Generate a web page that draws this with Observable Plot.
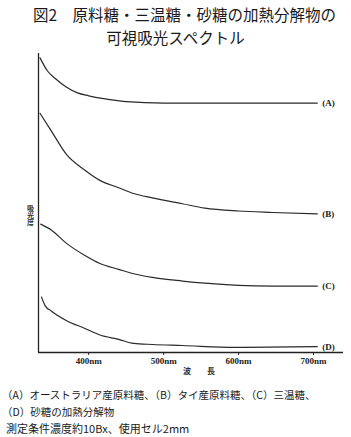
<!DOCTYPE html>
<html><head><meta charset="utf-8">
<script src="https://cdn.jsdelivr.net/npm/d3@7"></script>
<script src="https://cdn.jsdelivr.net/npm/@observablehq/plot@0.6"></script>
<style>
html,body{margin:0;padding:0;background:#fff;width:351px;height:437px;overflow:hidden;}
#title{font-family:"Noto Sans CJK JP";font-size:15.5px;line-height:22.5px;color:#1a1a1a;text-align:center;height:48px;box-sizing:border-box;padding-top:3px;white-space:nowrap;}
#chart svg{display:block;}
#caption{font-family:"Noto Sans CJK JP";font-size:10.5px;line-height:17px;color:#1a1a1a;padding-top:6px;white-space:nowrap;}
.ylab text{writing-mode:vertical-rl;text-orientation:upright;}
</style></head><body>
<div id="title"></div>
<div id="chart"></div>
<div id="caption"></div>
<script>
const titleLines = ["図2　原料糖・三温糖・砂糖の加熱分解物の", "可視吸光スペクトル"];
const captionLines = ["（A）オーストラリア産原料糖、（B）タイ産原料糖、（C）三温糖、", "（D）砂糖の加熱分解物", "測定条件濃度約10Bx、使用セル2mm"];
const seriesNames = ["(A)", "(B)", "(C)", "(D)"];
const xTicks = [400, 500, 600, 700];
const xLabel = "波　　長";
const yLabel = "吸光度";

const wavelengthA = [335, 345, 355, 370, 385, 400, 420, 450, 500, 600, 705];
const absorbA     = [2.02, 1.93, 1.88, 1.82, 1.78, 1.76, 1.74, 1.72, 1.71, 1.71, 1.71];
const wavelengthB = [335, 350, 370, 395, 415, 440, 460, 485, 525, 555, 600, 645, 705];
const absorbB     = [1.64, 1.52, 1.36, 1.25, 1.18, 1.13, 1.09, 1.06, 1.02, 0.99, 0.97, 0.96, 0.95];
const wavelengthC = [336, 350, 370, 395, 415, 440, 460, 485, 525, 555, 600, 645, 705];
const absorbC     = [0.88, 0.84, 0.75, 0.665, 0.61, 0.57, 0.54, 0.515, 0.49, 0.475, 0.46, 0.455, 0.455];
const wavelengthD = [337, 342, 350, 370, 395, 415, 440, 460, 485, 525, 595, 705];
const absorbD     = [0.38, 0.32, 0.285, 0.22, 0.165, 0.12, 0.09, 0.062, 0.055, 0.048, 0.035, 0.04];

const wls = [wavelengthA, wavelengthB, wavelengthC, wavelengthD];
const abss = [absorbA, absorbB, absorbC, absorbD];
const table = [];
seriesNames.forEach((name, i) => wls[i].forEach((w, j) => table.push({series: name, wl: w, abs: abss[i][j]})));
const labels = seriesNames.map((name, i) => ({series: name, wl: wls[i][wls[i].length - 1], abs: abss[i][abss[i].length - 1]}));

const t = document.getElementById("title");
titleLines.forEach((s, i) => { const d = document.createElement("div"); d.textContent = s; if (i === 0) d.style.paddingLeft = "18px"; t.appendChild(d); });
const c = document.getElementById("caption");
captionLines.forEach((s, i) => { const d = document.createElement("div"); d.textContent = s; d.style.paddingLeft = i === 2 ? "6px" : "2px"; if (i === 2) d.style.fontSize = "11px"; c.appendChild(d); });

const xmin = 333, xmax = 740, ymax = 2.05;
const chart = Plot.plot({
  width: 351, height: 332,
  marginLeft: 38, marginRight: 8, marginTop: 5, marginBottom: 28,
  style: {fontFamily: "Liberation Serif", background: "#fff", color: "#222"},
  x: {domain: [xmin, xmax]},
  y: {domain: [0, ymax], axis: null},
  marks: [
    Plot.axisX({ticks: xTicks, tickFormat: d => d + "nm", tickSize: 3, tickPadding: 2, fontSize: 9, fontWeight: "bold", label: null, stroke: "#222"}),
    Plot.ruleY([0], {stroke: "#222", strokeWidth: 1.3}),
    Plot.ruleX([xmin], {y1: 0, y2: ymax, stroke: "#222", strokeWidth: 1.3}),
    Plot.line(table, {x: "wl", y: "abs", z: "series", curve: "monotone-x", stroke: "#2a2a2a", strokeWidth: 1.2}),
    Plot.text(labels, {x: "wl", y: "abs", text: "series", textAnchor: "start", dx: 5, fontSize: 9, fontWeight: "bold", fill: "#222"}),
    Plot.text([yLabel], {frameAnchor: "left", dx: -8, dy: 0, text: d => d, fontSize: 7, fontFamily: "Noto Sans CJK JP", fontWeight: "bold", fill: "#333", className: "ylab"}),
    Plot.text([xLabel], {frameAnchor: "bottom", dx: 8, dy: 21, text: d => d, fontSize: 8, fontFamily: "Noto Sans CJK JP", fontWeight: "bold", fill: "#333"})
  ]
});
document.getElementById("chart").appendChild(chart);
</script>
</body></html>
